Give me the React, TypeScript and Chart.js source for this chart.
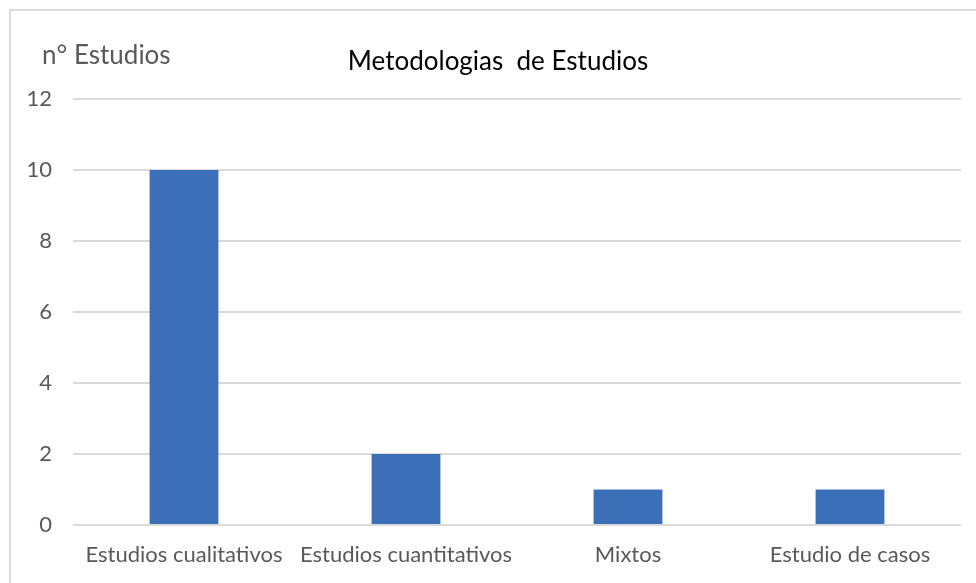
import React, { useEffect, useRef } from "react";
import { Chart, registerables } from "chart.js";

Chart.register(...registerables);

const categories = ["Estudios cualitativos", "Estudios cuantitativos", "Mixtos", "Estudio de casos"];
const values = [10, 2, 1, 1];
const chartTitle = "Metodologias  de Estudios";
const yAxisTitle = "n° Estudios";

const FONT = "Lato, 'Open Sans', sans-serif";

export default function App() {
  const ref = useRef<HTMLCanvasElement | null>(null);

  useEffect(() => {
    if (!ref.current) return;
    const textPlugin = {
      id: "texts",
      afterDraw(chart: any) {
        const ctx = chart.ctx;
        ctx.save();
        ctx.textBaseline = "middle";
        ctx.fillStyle = "#000000";
        ctx.font = `26px ${FONT}`;
        ctx.textAlign = "center";
        ctx.fillText(chartTitle, 498, 62);
        ctx.fillStyle = "#595959";
        ctx.textAlign = "left";
        ctx.fillText(yAxisTitle, 42, 56);
        ctx.restore();
      },
    };
    const chart = new Chart(ref.current, {
      type: "bar",
      data: {
        labels: categories,
        datasets: [
          {
            data: values,
            backgroundColor: "#3b70b9",
            categoryPercentage: 1,
            barPercentage: 0.31,
          },
        ],
      },
      options: {
        animation: false,
        responsive: false,
        maintainAspectRatio: false,
        layout: { padding: { top: 99, right: 15, left: 0, bottom: 0 } },
        plugins: {
          legend: { display: false },
          title: { display: false },
          tooltip: { enabled: false },
        },
        scales: {
          x: {
            grid: { display: false, drawTicks: false },
            border: { display: false },
            ticks: { color: "#595959", font: { family: FONT, size: 22 }, padding: 17, maxRotation: 0, autoSkip: false },
            afterFit(scale: any) {
              scale.height = 58;
            },
          },
          y: {
            min: 0,
            max: 12,
            grid: { color: "#d9d9d9", lineWidth: 2, drawTicks: false },
            border: { display: false },
            ticks: { stepSize: 2, color: "#595959", font: { family: FONT, size: 22 }, padding: 21 },
            afterFit(scale: any) {
              scale.width = 73;
            },
          },
        },
      },
      plugins: [textPlugin],
    });
    return () => chart.destroy();
  }, []);

  return (
    <div style={{ position: "fixed", left: 0, top: 0, width: 976, height: 583, background: "#ffffff" }}>
      <div
        style={{
          position: "absolute",
          left: 9,
          top: 9,
          right: 0,
          bottom: 0,
          borderTop: "2px solid #d9d9d9",
          borderLeft: "2px solid #d9d9d9",
        }}
      />
      <canvas ref={ref} width={976} height={583} style={{ position: "absolute", left: 0, top: 0 }} />
    </div>
  );
}
